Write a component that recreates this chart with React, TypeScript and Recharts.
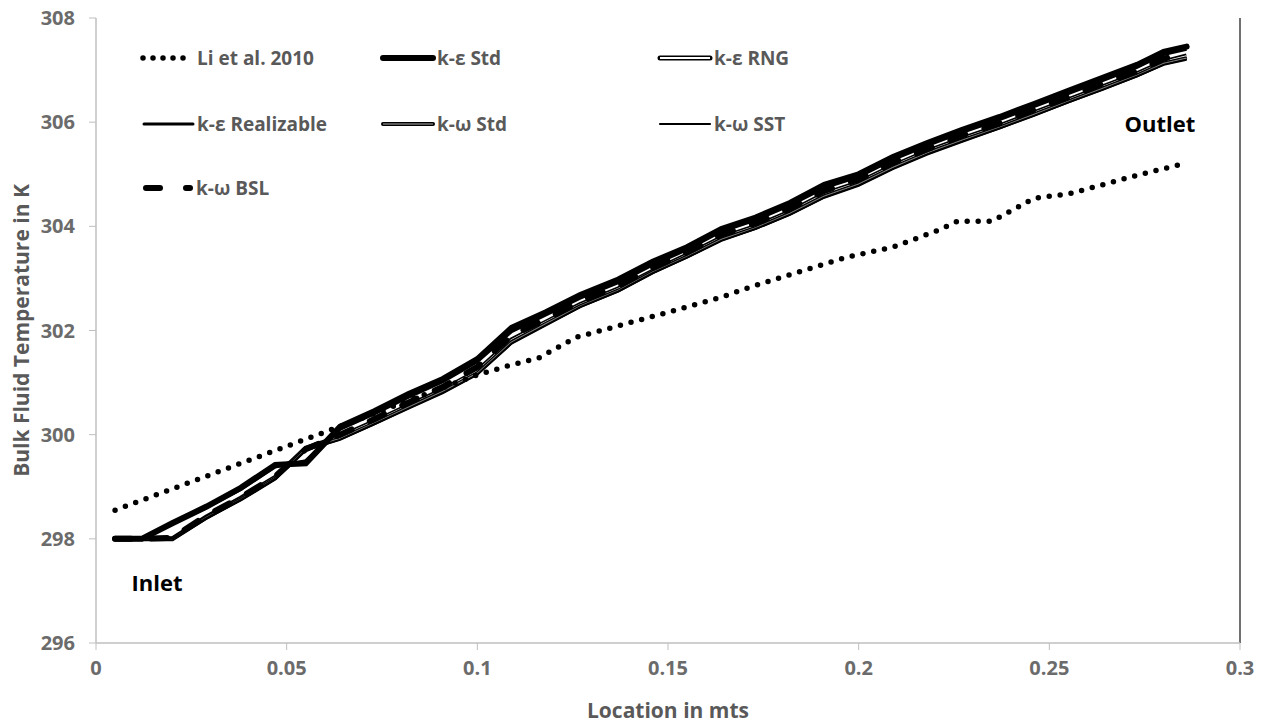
import React from 'react';
import { LineChart, Line, XAxis, YAxis, ReferenceLine, ReferenceDot, Label } from 'recharts';

// Axial stations along the tube (m) for the CFD runs
const cfdLocations = [
  0.005, 0.012, 0.02, 0.029, 0.038, 0.047, 0.055, 0.064, 0.073, 0.082, 0.091,
  0.1, 0.109, 0.118, 0.127, 0.137, 0.146, 0.155, 0.164, 0.173, 0.182, 0.191,
  0.2, 0.209, 0.218, 0.227, 0.237, 0.246, 0.255, 0.264, 0.273, 0.28, 0.286,
];

// Bulk fluid temperature (K) per turbulence model
const kEpsStd = [
  298.0, 298.0, 298.3, 298.62, 298.98, 299.42, 299.45, 300.15, 300.45, 300.78, 301.07,
  301.45, 302.05, 302.35, 302.68, 302.98, 303.32, 303.6, 303.95, 304.17, 304.45, 304.8,
  305.0, 305.33, 305.6, 305.85, 306.1, 306.35, 306.6, 306.85, 307.1, 307.35, 307.45,
];
const kEpsRng = [
  298.0, 298.0, 298.0, 298.42, 298.78, 299.18, 299.74, 299.96, 300.25, 300.56, 300.86,
  301.22, 301.82, 302.16, 302.5, 302.8, 303.14, 303.45, 303.78, 304.0, 304.28, 304.62,
  304.84, 305.16, 305.44, 305.68, 305.93, 306.18, 306.43, 306.68, 306.93, 307.16, 307.27,
];
const kEpsRealizable = [
  298.0, 298.0, 298.28, 298.6, 298.95, 299.38, 299.5, 300.1, 300.4, 300.72, 301.02,
  301.4, 301.98, 302.3, 302.62, 302.92, 303.26, 303.55, 303.9, 304.12, 304.4, 304.74,
  304.95, 305.28, 305.55, 305.8, 306.05, 306.3, 306.55, 306.8, 307.05, 307.3, 307.4,
];
const kOmegaStd = [
  298.0, 298.0, 298.0, 298.41, 298.76, 299.16, 299.72, 299.93, 300.22, 300.53, 300.83,
  301.18, 301.78, 302.13, 302.47, 302.77, 303.12, 303.42, 303.75, 303.97, 304.25, 304.58,
  304.81, 305.13, 305.41, 305.65, 305.9, 306.15, 306.4, 306.65, 306.9, 307.13, 307.23,
];
const kOmegaSst = [
  298.0, 298.0, 298.0, 298.4, 298.75, 299.15, 299.7, 299.9, 300.2, 300.5, 300.8,
  301.15, 301.75, 302.1, 302.45, 302.75, 303.1, 303.4, 303.72, 303.95, 304.22, 304.55,
  304.78, 305.1, 305.38, 305.62, 305.88, 306.12, 306.38, 306.62, 306.88, 307.1, 307.2,
];
const kOmegaBsl = [
  298.0, 298.0, 298.02, 298.45, 298.8, 299.2, 299.72, 300.0, 300.3, 300.62, 300.92,
  301.3, 301.9, 302.22, 302.56, 302.86, 303.2, 303.5, 303.84, 304.06, 304.34, 304.68,
  304.9, 305.22, 305.48, 305.74, 305.98, 306.24, 306.48, 306.74, 306.98, 307.22, 307.32,
];

// Experimental data, Li et al. 2010
const liLocations = [
  0.005, 0.06, 0.1, 0.109, 0.116, 0.126, 0.132, 0.15, 0.164, 0.171, 0.185, 0.197,
  0.209, 0.221, 0.226, 0.235, 0.246, 0.255, 0.273, 0.285,
];
const liTemps = [
  298.55, 300.05, 301.15, 301.34, 301.47, 301.87, 301.99, 302.35, 302.64, 302.82, 303.14, 303.41,
  303.6, 303.93, 304.1, 304.1, 304.54, 304.62, 304.98, 305.2,
];

const xTicks = [0, 0.05, 0.1, 0.15, 0.2, 0.25, 0.3];
const yTicks = [296, 298, 300, 302, 304, 306, 308];

const cfdData = cfdLocations.map((x, i) => ({
  x,
  kEpsStd: kEpsStd[i],
  kEpsRng: kEpsRng[i],
  kEpsRealizable: kEpsRealizable[i],
  kOmegaStd: kOmegaStd[i],
  kOmegaSst: kOmegaSst[i],
  kOmegaBsl: kOmegaBsl[i],
}));
const liData = liLocations.map((x, i) => ({ x, li: liTemps[i] }));

const FONT = '"Open Sans", Lato, sans-serif';
const GREY = '#595959';
const TICK_GREY = '#6b6b6b';

const tickStyle = { fill: TICK_GREY, fontSize: 20, fontWeight: 700, fontFamily: FONT };

const legendText = (x: number, y: number, label: string) => (
  <text x={x} y={y} fill={GREY} fontSize={19} fontWeight={700} fontFamily={FONT} dominantBaseline="central">
    {label}
  </text>
);

// legend sits inside the plot, 3 x 3 grid
const ChartLegend = () => (
  <svg width={900} height={220} style={{ position: 'absolute', left: 0, top: 0, pointerEvents: 'none' }}>
    <g>
      <line x1={143} y1={58} x2={193} y2={58} stroke="#000" strokeWidth={5.5} strokeDasharray="0 10" strokeLinecap="round" />
      {legendText(197, 58, 'Li et al. 2010')}

      <line x1={383} y1={58} x2={433} y2={58} stroke="#000" strokeWidth={6} strokeLinecap="round" />
      {legendText(437, 58, 'k-ε Std')}

      <line x1={660} y1={58} x2={710} y2={58} stroke="#000" strokeWidth={5} strokeLinecap="round" />
      <line x1={660} y1={58} x2={710} y2={58} stroke="#fff" strokeWidth={2} />
      {legendText(714, 58, 'k-ε RNG')}

      <line x1={144} y1={124} x2={193} y2={124} stroke="#000" strokeWidth={3} strokeLinecap="round" />
      {legendText(197, 124, 'k-ε Realizable')}

      <line x1={383} y1={124} x2={433} y2={124} stroke="#000" strokeWidth={4} strokeLinecap="round" />
      <line x1={383} y1={124} x2={433} y2={124} stroke="#777" strokeWidth={1.5} />
      {legendText(437, 124, 'k-ω Std')}

      <line x1={660} y1={124} x2={710} y2={124} stroke="#000" strokeWidth={2.2} strokeLinecap="round" />
      {legendText(714, 124, 'k-ω SST')}

      <line x1={146} y1={188} x2={160} y2={188} stroke="#000" strokeWidth={6} strokeLinecap="round" />
      <line x1={186} y1={188} x2={190} y2={188} stroke="#000" strokeWidth={6} strokeLinecap="round" />
      {legendText(196, 188, 'k-ω BSL')}
    </g>
  </svg>
);

const App: React.FC = () => {
  return (
    <div style={{ position: 'absolute', left: 0, top: 0, width: 1264, height: 726, background: '#fff' }}>
      <LineChart width={1264} height={726} margin={{ top: 18, right: 24, bottom: 23, left: 26 }}>
        <XAxis
          type="number"
          dataKey="x"
          domain={[0, 0.3]}
          ticks={xTicks}
          allowDataOverflow
          height={60}
          tick={tickStyle}
          tickMargin={11}
          tickSize={7}
          axisLine={{ stroke: '#bfbfbf', strokeWidth: 1.5 }}
          tickLine={{ stroke: '#bfbfbf' }}
        >
          <Label
            content={({ viewBox }: any) => (
              <text
                x={viewBox.x + viewBox.width / 2}
                y={viewBox.y + 67}
                textAnchor="middle"
                dominantBaseline="central"
                fill={GREY}
                fontSize={21}
                fontWeight={700}
                fontFamily={FONT}
              >
                Location in mts
              </text>
            )}
          />
        </XAxis>
        <YAxis
          type="number"
          domain={[296, 308]}
          ticks={yTicks}
          width={70}
          tick={tickStyle}
          tickSize={7}
          tickMargin={14}
          axisLine={{ stroke: '#bfbfbf', strokeWidth: 1.5 }}
          tickLine={{ stroke: '#bfbfbf' }}
        >
          <Label
            content={({ viewBox }: any) => {
              const cx = viewBox.x - 5;
              const cy = viewBox.y + viewBox.height / 2;
              return (
                <text
                  x={cx}
                  y={cy}
                  transform={`rotate(-90, ${cx}, ${cy})`}
                  textAnchor="middle"
                  dominantBaseline="central"
                  fill={GREY}
                  fontSize={21}
                  fontWeight={700}
                  fontFamily={FONT}
                >
                  Bulk Fluid Temperature in K
                </text>
              );
            }}
          />
        </YAxis>

        <ReferenceLine x={0.3} stroke="#404040" strokeWidth={1.5} />

        {/* k-ε RNG: black outline with white core */}
        <Line data={cfdData} dataKey="kEpsRng" stroke="#000" strokeWidth={5} dot={false} activeDot={false} isAnimationActive={false} />
        <Line data={cfdData} dataKey="kEpsRng" stroke="#fff" strokeWidth={1.8} dot={false} activeDot={false} isAnimationActive={false} />
        {/* k-ω Std: dark outline with grey core */}
        <Line data={cfdData} dataKey="kOmegaStd" stroke="#000" strokeWidth={4} dot={false} activeDot={false} isAnimationActive={false} />
        <Line data={cfdData} dataKey="kOmegaStd" stroke="#777" strokeWidth={1.4} dot={false} activeDot={false} isAnimationActive={false} />
        <Line data={cfdData} dataKey="kOmegaSst" stroke="#000" strokeWidth={2} dot={false} activeDot={false} isAnimationActive={false} />
        <Line data={cfdData} dataKey="kEpsRealizable" stroke="#000" strokeWidth={3} dot={false} activeDot={false} isAnimationActive={false} />
        <Line data={cfdData} dataKey="kEpsStd" stroke="#000" strokeWidth={6} strokeLinecap="round" dot={false} activeDot={false} isAnimationActive={false} />
        <Line data={cfdData} dataKey="kOmegaBsl" stroke="#000" strokeWidth={6} strokeDasharray="16 20" strokeLinecap="round" dot={false} activeDot={false} isAnimationActive={false} />
        <Line data={liData} dataKey="li" stroke="#000" strokeWidth={5.5} strokeDasharray="0 11" strokeLinecap="round" dot={false} activeDot={false} isAnimationActive={false} />

        <ReferenceDot x={0.016} y={297.15} r={0} label={{ value: 'Inlet', position: 'center', fill: '#000', fontSize: 22, fontWeight: 700, fontFamily: FONT }} />
        <ReferenceDot x={0.279} y={305.96} r={0} label={{ value: 'Outlet', position: 'center', fill: '#000', fontSize: 22, fontWeight: 700, fontFamily: FONT }} />
      </LineChart>
      <ChartLegend />
    </div>
  );
};

export default App;
